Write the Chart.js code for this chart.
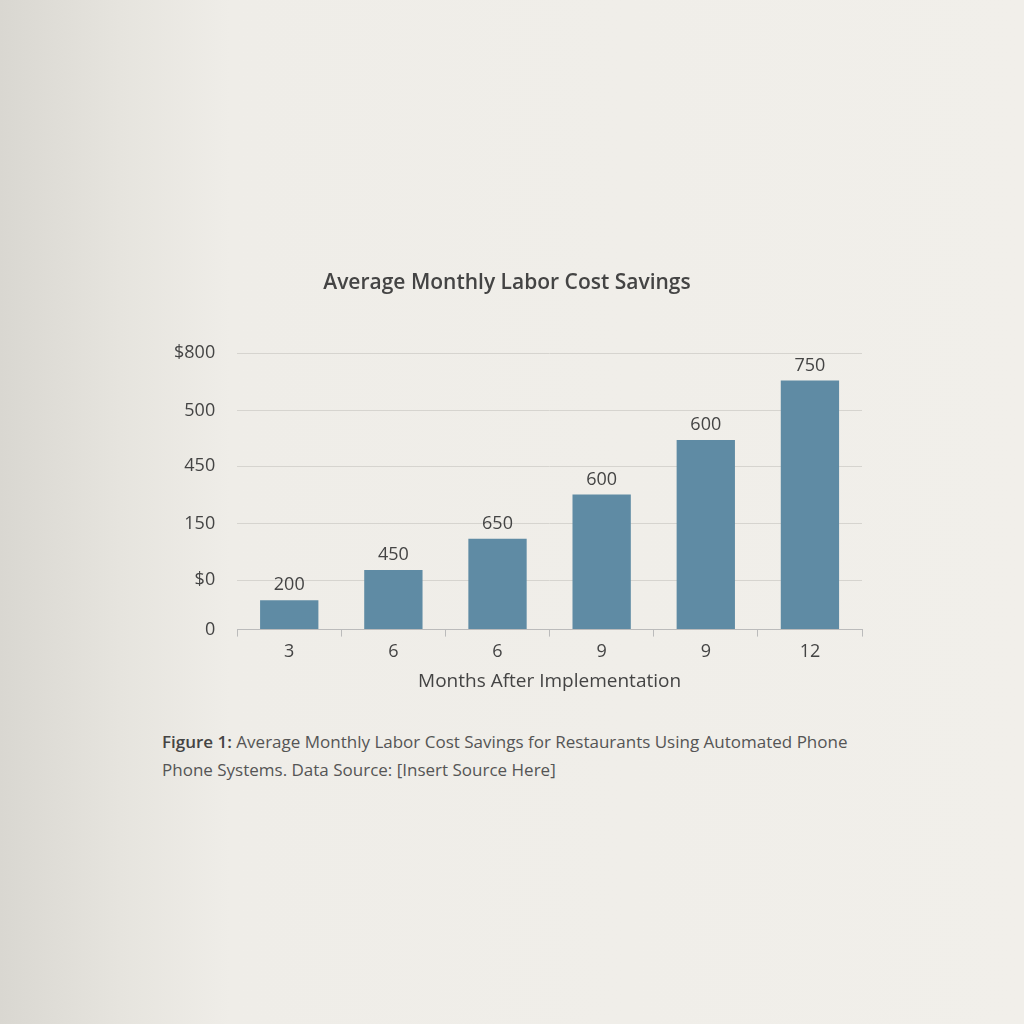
<!DOCTYPE html>
<html><head><meta charset="utf-8">
<script src="https://cdn.jsdelivr.net/npm/chart.js@4"></script>
<style>
body{margin:0;width:1024px;height:1024px;overflow:hidden;font-family:"Open Sans",Lato,sans-serif;
background:linear-gradient(90deg,#d9d7d1 0px,#e6e4de 120px,#efede8 230px,#f1efea 100%);}
#wrap{position:absolute;left:152px;top:260px;width:730px;height:437px;}
#cap{position:absolute;left:162px;top:728px;width:700px;font-size:17px;line-height:28px;color:#555;}
#cap b{font-weight:600;color:#444}
</style></head><body>
<div id="wrap"><canvas id="c"></canvas></div>
<div id="cap"><b>Figure 1:</b> Average Monthly Labor Cost Savings for Restaurants Using Automated Phone Phone Systems. Data Source: [Insert Source Here]</div>
<script>
// catégories et valeurs (unités de l'axe tel que dessiné)
const months = ['3','6','6','9','9','12'];
const barHeights = [29, 59, 90, 134, 188, 247];
const barLabels = ['200','450','650','600','600','750'];
const tickValues = [0, 49, 105, 162, 217, 274];
const tickLabels = ['0','$0','150','450','500','$800'];

const valueLabels = {
  id: 'valueLabels',
  afterDatasetsDraw(chart) {
    const ctx = chart.ctx;
    ctx.save();
    ctx.font = '18px "Open Sans"';
    ctx.fillStyle = '#444';
    ctx.textAlign = 'center';
    ctx.textBaseline = 'bottom';
    chart.getDatasetMeta(0).data.forEach((bar, i) => {
      ctx.fillText(barLabels[i], bar.x, bar.y - 6);
    });
    ctx.restore();
  }
};

new Chart(document.getElementById('c'), {
  type: 'bar',
  data: {
    labels: months,
    datasets: [{ data: barHeights, backgroundColor: '#5f8ba4', barPercentage: 0.56, categoryPercentage: 1 }]
  },
  options: {
    responsive: true, maintainAspectRatio: false, animation: false,
    layout: { padding: { right: 20 } },
    plugins: {
      legend: { display: false }, tooltip: { enabled: false },
      title: { display: true, text: 'Average Monthly Labor Cost Savings', color: '#444',
        font: { size: 21, weight: '600', family: '"Open Sans"' }, padding: { top: 10, bottom: 58 } }
    },
    scales: {
      x: {
        grid: { drawOnChartArea: false, drawTicks: true, tickLength: 7, color: '#bbb', offset: true },
        border: { color: '#bbb' },
        ticks: { color: '#444', font: { size: 18, family: '"Open Sans"' }, padding: 4 },
        title: { display: true, text: 'Months After Implementation', color: '#444',
          font: { size: 19, weight: '500', family: '"Open Sans"' }, padding: { top: 4 } }
      },
      y: {
        min: 0, max: 274,
        afterBuildTicks: s => { s.ticks = tickValues.map(v => ({ value: v })); },
        grid: { color: '#d6d4cf', drawTicks: false },
        border: { display: false },
        ticks: { color: '#444', font: { size: 18, family: '"Open Sans"' }, padding: 22,
          callback: (v, i) => tickLabels[i] }
      }
    }
  },
  plugins: [valueLabels]
});
</script>
</body></html>
